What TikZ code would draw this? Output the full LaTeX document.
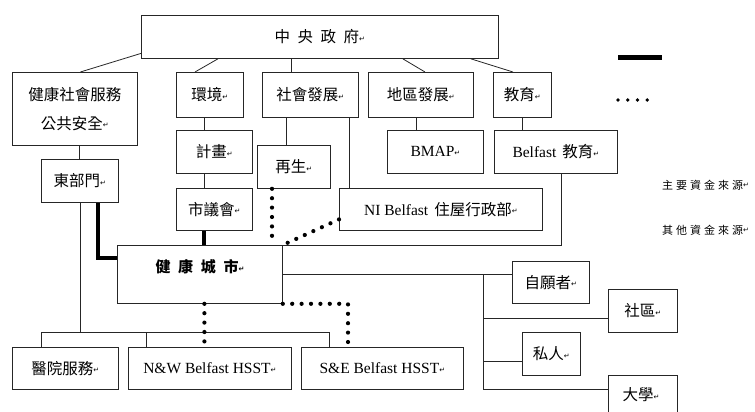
\documentclass[tikz,border=0pt]{standalone}
\usepackage{fontspec}
\setmainfont{Liberation Serif}
\newfontfamily\cjk{Noto Sans CJK TC}
\newfontfamily\symf{DejaVu Sans}
\newcommand\retmark{\raisebox{1.5pt}{\symf\fontsize{7}{7}\selectfont ↵}}
\newcommand\lsp{\hspace{3pt}}
\begin{document}
\begin{tikzpicture}[x=1pt,y=-1pt,
  box/.style={draw=black!85, line width=0.8pt, inner sep=0pt, anchor=north west, align=center, font=\cjk\fontsize{15.5}{29}\selectfont},
  conn/.style={draw=black!85, line width=0.8pt},
  thickconn/.style={draw=black, line width=4pt},
  dotconn/.style={draw=black, line width=4.2pt, line cap=round, dash pattern=on 0pt off 9.4pt},
  legdots/.style={draw=black, line width=3.6pt, line cap=round, dash pattern=on 0pt off 9.75pt},
  lbl/.style={inner sep=0pt}]
\useasboundingbox (0,0) rectangle (755,412);
\clip (0,0) rectangle (755,412);

% boxes
\node[box, minimum width=357pt, minimum height=43pt] (gov) at (141,15) {中\hspace{7.5pt}央\hspace{7.5pt}政\hspace{7.5pt}府\retmark};
\node[box, minimum width=125pt, minimum height=73pt] (hss) at (12,72) {健康社會服務\\公共安全\retmark};
\node[box, minimum width=67pt, minimum height=45pt] (env) at (176,72) {環境\retmark};
\node[box, minimum width=96pt, minimum height=45pt] (soc) at (262,72) {社會發展\retmark};
\node[box, minimum width=105pt, minimum height=45pt] (reg) at (368,72) {地區發展\retmark};
\node[box, minimum width=58pt, minimum height=45pt] (edu) at (493,72) {教育\retmark};
\node[box, minimum width=76pt, minimum height=43pt] (plan) at (176,130) {計畫\retmark};
\node[box, minimum width=73pt, minimum height=43pt] (regen) at (257,145) {再生\retmark};
\node[box, minimum width=77pt, minimum height=43pt] (east) at (41,159) {東部門\retmark};
\node[box, minimum width=76pt, minimum height=42pt] (council) at (176,188) {市議會\retmark};
\node[box, minimum width=203pt, minimum height=42pt] (ni) at (339,188) {{\rmfamily NI Belfast}\hspace{6pt}住屋行政部\retmark};
\node[box, minimum width=96pt, minimum height=43pt] (bmap) at (387,130) {\rmfamily BMAP\retmark};
\node[box, minimum width=123pt, minimum height=43pt] (bedu) at (494,130) {{\rmfamily Belfast}\hspace{6pt}教育\retmark};
\node[box, minimum width=165pt, minimum height=58pt] (city) at (117,245) {};
\node[lbl, font=\cjk\bfseries\fontsize{15}{18}\selectfont] (citylbl) at (200,267) {健\hspace{7.7pt}康\hspace{7.7pt}城\hspace{7.7pt}市\retmark};
\node[box, minimum width=106pt, minimum height=42pt] (hosp) at (12,347) {醫院服務\retmark};
\node[box, minimum width=163pt, minimum height=42pt] (nw) at (128,347) {\rmfamily N\&W Belfast HSST\retmark};
\node[box, minimum width=162pt, minimum height=42pt] (se) at (301,347) {\rmfamily S\&E Belfast HSST\retmark};
\node[box, minimum width=77pt, minimum height=42pt] (vol) at (512,261) {自願者\retmark};
\node[box, minimum width=69pt, minimum height=43pt] (comm) at (608,289) {社區\retmark};
\node[box, minimum width=58pt, minimum height=43pt] (priv) at (522,332) {私人\retmark};
\node[box, minimum width=69pt, minimum height=50pt] (uni) at (608,375) {};
\node[lbl, font=\cjk\fontsize{15.5}{18}\selectfont] (unilbl) at (641,395) {大學\retmark};

% connectors from central government
\draw[conn] ([yshift=-16.5pt]gov.west) -- ([xshift=5.5pt]hss.north);
\draw[conn] ([xshift=77pt]gov.south west) -- ([xshift=19pt]env.north west);
\coordinate (socin) at ([xshift=-19pt]soc.north);
\draw[conn] (socin) -- (socin |- gov.south);
\draw[conn] ([xshift=-96pt]gov.south east) -- ([xshift=57pt]reg.north west);
\draw[conn] ([xshift=-28pt]gov.south east) -- ([xshift=20pt]edu.north west);

% departments down
\coordinate (eastin) at ([xshift=38pt]east.north west);
\draw[conn] (eastin) -- (eastin |- hss.south);
\draw[conn] ([xshift=28pt]env.south west) -- ([xshift=28pt]plan.north west);
\draw[conn] ([xshift=28pt]plan.south west) -- ([xshift=28pt]council.north west);
\coordinate (regenin) at ([xshift=29pt]regen.north west);
\draw[conn] (regenin) -- (regenin |- soc.south);
\coordinate (niin) at ([xshift=10pt]ni.north west);
\draw[conn] (niin) -- (niin |- soc.south);
\coordinate (bmapin) at ([xshift=29pt]bmap.north west);
\draw[conn] (bmapin) -- (bmapin |- reg.south);
\coordinate (beduin) at ([xshift=28pt]bedu.north west);
\draw[conn] (beduin) -- (beduin |- edu.south);
\draw[conn] ([xshift=-56pt]bedu.south east) |- (city.north east);

% main funding (thick)
\coordinate (councilout) at ([xshift=28pt]council.south west);
\draw[thickconn] (councilout) -- (councilout |- city.north);
\draw[thickconn] ([xshift=57pt]east.south west) |- ([yshift=16pt]city.west);

% east dept to hospital services
\coordinate (hospin) at ([xshift=29pt]hosp.north west);
\coordinate (nwin) at ([xshift=18pt]nw.north west);
\coordinate (sein) at ([xshift=28pt]se.north west);
\coordinate (busrow) at ([yshift=15pt]hosp.north);
\draw[conn] (hospin) -- ++(0,-15) -| (sein);
\draw[conn] (nwin) -- ++(0,-15);
\draw[conn] (east.south) -- (east.south |- busrow);

% branches to partners
\coordinate (trunk) at (483,274);
\coordinate (uniin) at ([yshift=-14pt]uni.north west);
\coordinate (commin) at ([yshift=-7.5pt]comm.west);
\coordinate (privin) at ([yshift=-7.5pt]priv.west);
\draw[conn] (city.east) -- (city.east -| vol.west);
\draw[conn] (trunk) -- (trunk |- uniin) -- (uniin);
\draw[conn] (trunk |- commin) -- (commin);
\draw[conn] (trunk |- privin) -- (privin);

% other funding (dotted)
\coordinate (regenout) at ([xshift=15pt]regen.south west);
\coordinate (cityout) at ([xshift=4.5pt]city.south);
\draw[dotconn] (regenout) -- (regenout |- city.north);
\draw[dotconn] ([yshift=-10pt]ni.west) -- (city.north east);
\draw[dotconn] (cityout) -- (cityout |- nw.north);
\draw[dotconn] (city.south east) -| ([xshift=47pt]se.north west);

% legend
\coordinate (l1a) at (618,58); \coordinate (l1b) at (662,58);
\coordinate (l2a) at (618,100); \coordinate (l2b) at (657,100);
\draw[line width=5pt] (l1a) -- (l1b);
\draw[legdots] (l2a) -- (l2b);
\node[lbl, anchor=west, font=\cjk\fontsize{11}{12}\selectfont] (leg1) at (662,185) {主\lsp 要\lsp 資\lsp 金\lsp 來\lsp 源\retmark};
\node[lbl, anchor=west, font=\cjk\fontsize{11}{12}\selectfont] (leg2) at (662,230) {其\lsp 他\lsp 資\lsp 金\lsp 來\lsp 源\retmark};
\end{tikzpicture}
\end{document}
